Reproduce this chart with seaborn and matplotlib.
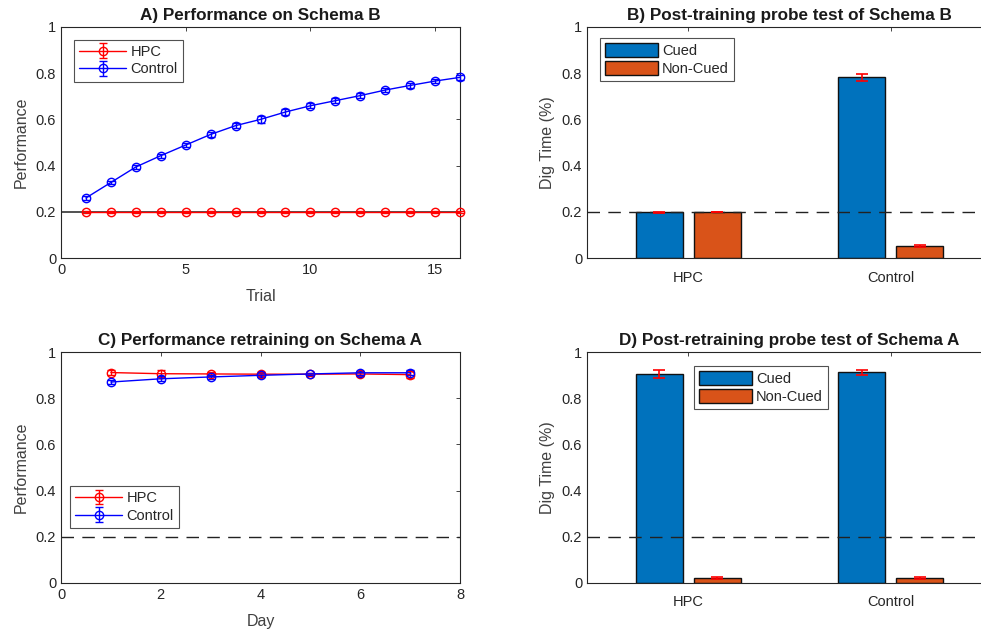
import numpy as np
import pandas as pd
import matplotlib
matplotlib.use("Agg")
import matplotlib.pyplot as plt
import seaborn as sns

# ---- data -------------------------------------------------------------
trials = list(range(1, 17))
hpc_train = [0.2] * 16
hpc_train_err = [0.004] * 16
ctrl_train = [0.26, 0.327, 0.394, 0.443, 0.489, 0.535, 0.573, 0.600,
              0.632, 0.659, 0.681, 0.703, 0.727, 0.747, 0.766, 0.782]
ctrl_train_err = [0.008, 0.008, 0.01, 0.009, 0.008, 0.012, 0.01, 0.014,
                  0.012, 0.01, 0.01, 0.012, 0.01, 0.012, 0.01, 0.012]

days = list(range(1, 8))
hpc_retrain = [0.911, 0.906, 0.905, 0.904, 0.904, 0.905, 0.902]
hpc_retrain_err = [0.012, 0.015, 0.01, 0.008, 0.006, 0.008, 0.014]
ctrl_retrain = [0.870, 0.884, 0.892, 0.899, 0.905, 0.910, 0.910]
ctrl_retrain_err = [0.009, 0.01, 0.01, 0.008, 0.006, 0.008, 0.01]

groups = ["HPC", "Control"]
conditions = ["Cued", "Non-Cued"]
probe_b_cued = [0.198, 0.782]
probe_b_cued_err = [0.003, 0.015]
probe_b_noncued = [0.199, 0.052]
probe_b_noncued_err = [0.002, 0.004]
probe_a_cued = [0.905, 0.912]
probe_a_cued_err = [0.016, 0.01]
probe_a_noncued = [0.023, 0.021]
probe_a_noncued_err = [0.004, 0.004]

chance = 0.2

# ---- style ------------------------------------------------------------
sns.set_theme(style="white")
plt.rcParams["font.family"] = ["Liberation Sans", "DejaVu Sans"]
plt.rcParams["axes.edgecolor"] = "#262626"
plt.rcParams["xtick.color"] = "#262626"
plt.rcParams["ytick.color"] = "#262626"

BLUE = "#0072BD"
ORANGE = "#D95319"
TICK_FS = 10.5
LABEL_FS = 11.5
TITLE_FS = 12.3
DASH = (0, (9, 6))

W, H = 981, 636
fig = plt.figure(figsize=(W / 100, H / 100), dpi=100)


def px_axes(left, top, right, bottom):
    return fig.add_axes([left / W, 1 - bottom / H, (right - left) / W, (bottom - top) / H])


def style_axes(ax):
    for side in ["left", "bottom", "top", "right"]:
        ax.spines[side].set_visible(True)
        ax.spines[side].set_linewidth(0.8)
        ax.spines[side].set_color("#262626")
    ax.tick_params(axis="both", which="both", direction="in", length=3,
                   labelsize=TICK_FS, top=True, right=True, width=0.6)
    ax.set_yticks([0, 0.2, 0.4, 0.6, 0.8, 1])
    ax.set_yticklabels(["0", "0.2", "0.4", "0.6", "0.8", "1"])
    ax.set_ylim(0, 1)


def line_panel(ax, x, series, title, xlabel, xlim, xticks, legend_anchor):
    for label, y, err, col in series:
        ax.errorbar(x, y, yerr=err, fmt="-o", color=col, mfc="none", mec=col,
                    ms=6, mew=1.0, lw=1.0, capsize=3, elinewidth=1.0,
                    capthick=1.0, label=label, zorder=3, clip_on=False)
    ax.set_xlim(*xlim)
    ax.set_xticks(xticks)
    ax.set_title(title, fontsize=TITLE_FS, fontweight="bold", color="#1a1a1a", pad=5)
    ax.set_xlabel(xlabel, fontsize=LABEL_FS, color="#404040", labelpad=9)
    ax.set_ylabel("Performance", fontsize=LABEL_FS, color="#404040", labelpad=5)
    style_axes(ax)
    leg = ax.legend(loc="upper left", bbox_to_anchor=legend_anchor, fontsize=10.5,
                    frameon=True, fancybox=False, edgecolor="#262626",
                    handlelength=3.2, handletextpad=0.3, borderpad=0.35,
                    labelspacing=0.25, borderaxespad=0)
    leg.get_frame().set_linewidth(0.8)


def bar_panel(ax, cued, cued_err, noncued, noncued_err, title, legend_anchor):
    df = pd.DataFrame({
        "group": groups * 2,
        "condition": [conditions[0]] * 2 + [conditions[1]] * 2,
        "value": list(cued) + list(noncued),
    })
    sns.barplot(data=df, x="group", y="value", hue="condition", order=groups,
                hue_order=conditions, palette=[BLUE, ORANGE], errorbar=None,
                width=0.57, gap=0.186, edgecolor="#111111", linewidth=1.0,
                saturation=1, ax=ax, zorder=2)
    # error bars at the centre of each bar
    for cont, err in zip(ax.containers, [cued_err, noncued_err]):
        xs = [p.get_x() + p.get_width() / 2 for p in cont.patches]
        ys = [p.get_height() for p in cont.patches]
        ax.errorbar(xs, ys, yerr=err, fmt="none", ecolor="red",
                    elinewidth=1.2, capsize=4, capthick=1.2, zorder=4)
    ax.axhline(chance, color="#222222", lw=1.0, ls=DASH, zorder=3)
    ax.set_xlim(-0.5, 1.5)
    ax.set_xlabel("")
    ax.set_ylabel("Dig Time (%)", fontsize=LABEL_FS, color="#404040", labelpad=5)
    ax.set_title(title, fontsize=TITLE_FS, fontweight="bold", color="#1a1a1a", pad=5)
    style_axes(ax)
    ax.tick_params(axis="x", labelsize=TICK_FS, pad=9)
    handles, labels = ax.get_legend_handles_labels()
    leg = ax.legend(handles, labels, loc="upper left", bbox_to_anchor=legend_anchor,
                    fontsize=10.5, frameon=True, fancybox=False, edgecolor="#262626",
                    handlelength=3.6, handleheight=1.1, handletextpad=0.3,
                    borderpad=0.35, labelspacing=0.2, borderaxespad=0)
    leg.get_frame().set_linewidth(0.8)


# ---- A) training on Schema B -------------------------------------------
axA = px_axes(61, 27, 460, 258)
axA.axhline(chance, color="#333333", lw=1.2, zorder=2.5)
line_panel(axA, trials,
           [("HPC", hpc_train, hpc_train_err, "red"),
            ("Control", ctrl_train, ctrl_train_err, "blue")],
           "A) Performance on Schema B", "Trial", (0, 16), [0, 5, 10, 15],
           (0.033, 0.945))

# ---- B) probe after training -------------------------------------------
axB = px_axes(587, 27, 992, 258)
bar_panel(axB, probe_b_cued, probe_b_cued_err, probe_b_noncued, probe_b_noncued_err,
          "B) Post-training probe test of Schema B", (0.032, 0.952))

# ---- C) retraining on Schema A -----------------------------------------
axC = px_axes(61, 352, 460, 583)
axC.axhline(chance, color="#222222", lw=1.0, ls=DASH, zorder=1)
line_panel(axC, days,
           [("HPC", hpc_retrain, hpc_retrain_err, "red"),
            ("Control", ctrl_retrain, ctrl_retrain_err, "blue")],
           "C) Performance retraining on Schema A", "Day", (0, 8),
           [0, 2, 4, 6, 8], (0.023, 0.42))

# ---- D) probe after retraining -----------------------------------------
axD = px_axes(587, 352, 992, 583)
bar_panel(axD, probe_a_cued, probe_a_cued_err, probe_a_noncued, probe_a_noncued_err,
          "D) Post-retraining probe test of Schema A", (0.264, 0.94))

fig.savefig("out.png", dpi=100)
